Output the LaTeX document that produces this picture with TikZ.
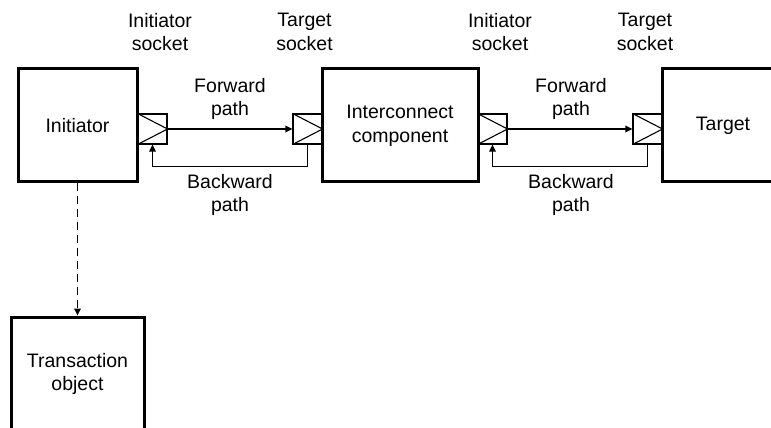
\documentclass[tikz,border=0pt]{standalone}
\usepackage{fontspec}
\setmainfont{Liberation Sans}
\usetikzlibrary{arrows.meta}
\begin{document}
\begin{tikzpicture}[x=1pt,y=-1pt,
  every node/.style={font=\fontsize{19.5}{23.5}\selectfont, align=center, inner sep=0pt},
  block/.style={draw, line width=3pt, minimum width=#1, minimum height=112pt},
  sock/.style={draw, line width=1.1pt, minimum width=29pt, minimum height=30pt},
  arr/.style={line width=1.6pt, -{Triangle[length=7pt,width=6.5pt]}},
  dasharr/.style={line width=1.8pt, dash pattern=on 8pt off 5pt, -{Triangle[length=7pt,width=6.5pt]}}]
\useasboundingbox (0,0) rectangle (771,428);
\clip (0,0) rectangle (771,428);

% component blocks
\node[block=119pt] (init) at (77.5,125) {};
\node[block=156pt] (ic) at (400,125) {};
\node[block=124pt] (tgt) at (724,125) {};
\node[block=133pt, minimum height=128pt] (trans) at (77.5,381) {};

\node (initlbl) at (77.5,126) {Initiator};
\node (iclbl) at (400,126) {Interconnect\\component};
\node (tgtlbl) at (723,126) {Target};
\node (translbl) at (77.5,374) {Transaction\\object};

% sockets
\node[sock] (is1) at (152.5,129) {};
\node[sock] (ts1) at (307.5,129) {};
\node[sock] (is2) at (492.5,129) {};
\node[sock] (ts2) at (647.5,129) {};
\foreach \s in {is1,ts1,is2,ts2}
  \draw[line width=1.1pt] (\s.north west) -- (\s.east) -- (\s.south west);

% forward and backward paths
\draw[arr] (is1.east) -- (ts1.west);
\draw[arr] (ts1.south) -- ++(0,22) -| (is1.south);
\draw[arr] (is2.east) -- (ts2.west);
\draw[arr] (ts2.south) -- ++(0,22) -| (is2.south);

% transaction object
\draw[dasharr] (init.south) -- (trans.north);

% labels
\node (fw1) at (230,99) {Forward\\path};
\node (bw1) at (230,195) {Backward\\path};
\node (fw2) at (571,99) {Forward\\path};
\node (bw2) at (571,195) {Backward\\path};
\node (isl1) at (160,32) {Initiator\\socket};
\node (tsl1) at (304.5,32) {Target\\socket};
\node (isl2) at (500,32) {Initiator\\socket};
\node (tsl2) at (645,32) {Target\\socket};
\end{tikzpicture}
\end{document}
